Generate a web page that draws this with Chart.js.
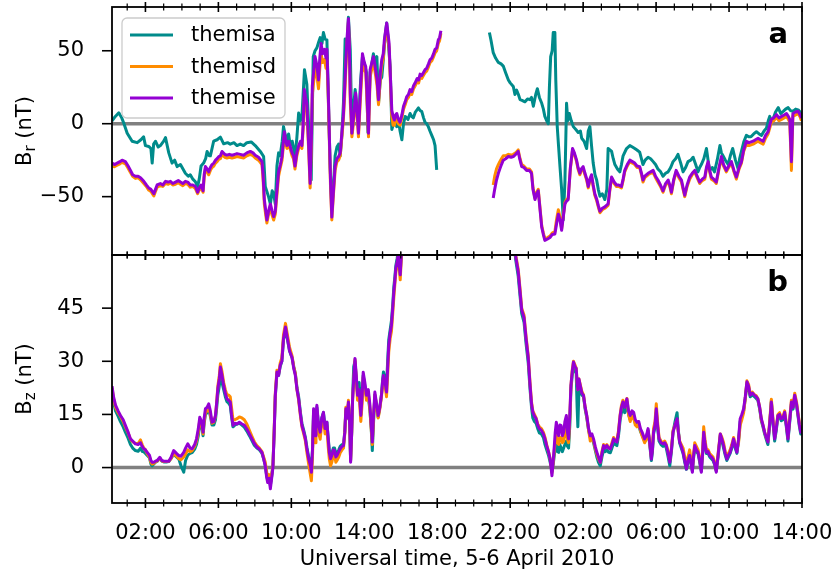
<!DOCTYPE html>
<html>
<head>
<meta charset="utf-8">
<script src="https://cdn.jsdelivr.net/npm/chart.js@4.4.1/dist/chart.umd.min.js"></script>
<style>
  html, body { margin: 0; padding: 0; background: #fff; }
  #wrap { position: relative; width: 836px; height: 576px; }
  #wrap canvas { position: absolute; left: 0; top: 0; }
</style>
</head>
<body>
<div id="wrap">
  <canvas id="chartBr" width="836" height="576"></canvas>
  <canvas id="chartBz" width="836" height="576"></canvas>
</div>
<script>
// probes and their line colours
const probes = ['themisa', 'themisd', 'themise'];
const probeColors = ['#008b8b', '#ff8c00', '#9400d3'];

// time axis in hours from 00:00 on 5 April
const xMin = 1 / 6;
const xMax = 38;
const hourTicks = [2, 6, 10, 14, 18, 22, 26, 30, 34, 38];
const brTicks = [-50, 0, 50];
const bzTicks = [0, 15, 30, 45];

// Br (nT), [hour, value]
const brA = [
  [0.17,2],[0.35,5],[0.54,7.5],[0.7,4],[0.81,0.5],[1.0,-6.5],[1.27,-12],[1.55,-13],[1.75,-11],[1.9,-9],
  [2.0,-15],[2.18,-15.6],[2.3,-17],[2.37,-27],[2.45,-14],[2.55,-12],[2.7,-16],[2.82,-15],[3.0,-12],[3.1,-9.5],
  [3.28,-20],[3.46,-27],[3.6,-25],[3.74,-29.4],[3.92,-28],[4.19,-34],[4.35,-36],[4.46,-35],[4.6,-38],[4.74,-39.8],
  [4.86,-43],[4.95,-38],[5.05,-29],[5.19,-27],[5.3,-24],[5.38,-19],[5.5,-22],[5.56,-22],[5.74,-12],[5.93,-11],
  [6.11,-9.2],[6.29,-13.8],[6.5,-13],[6.65,-14],[6.85,-13],[7.02,-15],[7.2,-14],[7.38,-15],[7.56,-13],[7.8,-12.5],
  [8.02,-15],[8.3,-19],[8.48,-22.5],[8.57,-43],[8.75,-50],[8.85,-55],[8.95,-46],[9.03,-48],[9.12,-55],[9.21,-29],
  [9.3,-20],[9.39,-22],[9.5,-12],[9.57,-2],[9.67,-8],[9.76,-11],[9.85,-7],[9.94,-15],[10.05,-12],[10.2,-22.5],
  [10.3,-10],[10.4,7.3],[10.5,2],[10.58,5],[10.72,37],[10.85,27],[10.98,-10],[11.09,-38.6],[11.2,46],[11.3,50],
  [11.4,52],[11.5,56],[11.58,59],[11.68,55],[11.76,62.5],[11.85,58],[11.95,57.5],[12.04,12],[12.13,-30],[12.22,-57],
  [12.3,-45],[12.4,-22],[12.5,-16],[12.59,-14],[12.68,-22],[12.77,-8],[12.86,15],[12.95,58],[13.05,50],[13.13,73],
  [13.23,51],[13.32,-6.5],[13.4,10],[13.5,23.4],[13.6,10],[13.68,-2],[13.8,30],[13.9,46],[14.05,39],[14.12,35],
  [14.2,-6],[14.32,35],[14.42,42],[14.5,48],[14.6,40],[14.69,46],[14.78,14],[14.88,30],[14.96,32],[15.05,45],
  [15.14,60],[15.23,69],[15.32,55],[15.42,39],[15.51,-4],[15.6,0],[15.69,1],[15.78,-2],[15.87,2.5],[15.96,-5],
  [16.06,-11],[16.15,0],[16.24,5],[16.4,3],[16.51,7],[16.6,5],[16.69,4],[16.8,8],[16.97,10.8],[17.06,9],
  [17.15,8.5],[17.25,4],[17.33,1],[17.42,0],[17.51,-2],[17.6,-5],[17.7,-8],[17.8,-11],[17.88,-15],[17.97,-31.7],
  [19.5,null],
  [20.86,62.5],[20.95,57],[21.07,48.7],[21.2,45],[21.35,42],[21.5,41],[21.62,39.5],[21.75,35],[21.9,30],[22.0,28],
  [22.17,25.5],[22.26,20],[22.35,23],[22.45,20],[22.54,16.5],[22.65,16],[22.81,15],[22.95,17],[23.08,16.5],[23.17,18],
  [23.27,12],[23.4,20],[23.49,24],[23.6,18],[23.73,14],[23.82,10],[23.9,5],[24.0,2],[24.09,0],[24.15,25],
  [24.22,46],[24.3,50],[24.36,62.5],[24.45,62.5],[24.5,30],[24.58,-2],[24.65,-15],[24.73,-29.5],[24.82,-45],[24.91,-66],
  [25.0,-40],[25.09,14],[25.16,2],[25.24,7],[25.35,2],[25.46,-2],[25.6,-4],[25.73,-6],[25.85,-5],[25.92,-10],
  [26.05,-12],[26.19,-17],[26.28,-5],[26.37,-2],[26.46,-15],[26.55,-27],[26.65,-35],[26.74,-38.6],[26.83,-45],[26.92,-49.7],
  [27.05,-48],[27.19,-52],[27.3,-45],[27.37,-17],[27.47,-18],[27.56,-19],[27.65,-24],[27.74,-28],[27.88,-31],[28.01,-33],
  [28.1,-28],[28.19,-22],[28.38,-17],[28.56,-15],[28.7,-16],[28.83,-17],[28.95,-18],[29.1,-19.5],[29.28,-28],[29.4,-25],
  [29.56,-23],[29.7,-24],[29.84,-26],[29.97,-28],[30.1,-31],[30.25,-33],[30.38,-36],[30.52,-34],[30.66,-33],[30.8,-30],
  [30.93,-26],[31.07,-24],[31.2,-21],[31.35,-27],[31.48,-33],[31.62,-30],[31.75,-26],[31.9,-25],[32.03,-23],[32.17,-28],
  [32.3,-33],[32.39,-30],[32.48,-28],[32.62,-24],[32.76,-17],[32.85,-25],[32.94,-32],[33.08,-30],[33.2,-33],[33.35,-25],
  [33.5,-15],[33.58,-20],[33.67,-22],[33.8,-25],[33.95,-28],[34.07,-22],[34.2,-17],[34.35,-25],[34.5,-31],[34.58,-24],
  [34.68,-19],[34.82,-12],[34.95,-8],[35.08,-9],[35.2,-9],[35.35,-7],[35.5,-5.5],[35.65,-7],[35.78,-8],[35.92,-5],
  [36.05,-3],[36.15,2],[36.23,5],[36.32,2],[36.41,3],[36.55,8],[36.7,11],[36.83,7],[36.97,8.5],[37.1,10],
  [37.24,11],[37.37,9],[37.5,8.5],[37.65,10],[37.79,9.5],[37.9,8],[37.97,6]
];

const brD = [
  [0.17,-29],[0.3,-29.5],[0.45,-28.5],[0.6,-27.5],[0.72,-26.5],[0.9,-27.5],[1.05,-30.5],[1.18,-33.5],[1.3,-36],[1.45,-37.5],
  [1.6,-37],[1.73,-38.5],[1.91,-41],[2.05,-43],[2.18,-45.5],[2.3,-46.5],[2.46,-49.5],[2.55,-46.5],[2.64,-43.5],[2.82,-42.5],
  [2.95,-43],[3.1,-41],[3.25,-41.5],[3.37,-40.5],[3.5,-42],[3.65,-41.5],[3.8,-40.5],[3.92,-41.5],[4.05,-42.5],[4.19,-41],
  [4.32,-41.5],[4.46,-43.5],[4.6,-43],[4.74,-44.5],[4.86,-48],[4.95,-45.5],[5.05,-43.5],[5.16,-47],[5.22,-37],[5.29,-31],
  [5.38,-32.5],[5.47,-35],[5.56,-32],[5.65,-30],[5.75,-29],[5.84,-27],[5.93,-26],[6.02,-24.5],[6.11,-24],[6.2,-21],
  [6.35,-23],[6.47,-23.5],[6.6,-23],[6.75,-23.5],[6.9,-23],[7.02,-22.5],[7.2,-23],[7.38,-23.5],[7.56,-22],[7.75,-21],
  [7.9,-22],[8.02,-23.5],[8.2,-25],[8.39,-28],[8.45,-38],[8.52,-55],[8.6,-63],[8.66,-68],[8.75,-62],[8.85,-58],
  [8.95,-63],[9.03,-66],[9.12,-62],[9.18,-53],[9.3,-36],[9.4,-30],[9.49,-25],[9.55,-17],[9.62,-8],[9.7,-14],
  [9.76,-17],[9.85,-14],[9.95,-18],[10.04,-22],[10.12,-24],[10.2,-31],[10.3,-22],[10.4,-17],[10.5,-14],[10.58,-17],
  [10.65,-3],[10.71,18],[10.78,14],[10.85,8],[10.95,-18],[11.03,-44],[11.1,-14],[11.15,20],[11.22,28],[11.3,38],
  [11.4,33],[11.49,24],[11.56,38],[11.63,48],[11.72,42],[11.82,44],[11.9,38],[11.95,44],[12.02,20],[12.08,-10],
  [12.15,-44],[12.22,-66],[12.3,-50],[12.4,-32],[12.5,-26],[12.59,-25],[12.68,-22],[12.77,-9],[12.85,2],[12.92,18],
  [12.98,35],[13.05,54],[13.13,70],[13.18,50],[13.23,15],[13.32,-9],[13.42,2],[13.53,17],[13.6,7],[13.68,-9],
  [13.78,15],[13.9,42],[14.0,37],[14.08,35],[14.15,15],[14.23,-9],[14.32,32],[14.42,38],[14.5,42],[14.56,38],
  [14.62,33],[14.7,26],[14.78,13],[14.88,31],[14.96,40],[15.04,45],[15.1,54],[15.18,62],[15.23,66],[15.3,59],
  [15.36,52],[15.44,26],[15.51,5],[15.58,-1],[15.65,-1],[15.72,3],[15.78,4],[15.87,0],[15.96,-1],[16.06,4],
  [16.15,10],[16.24,13],[16.33,16.5],[16.42,18],[16.51,21],[16.6,20],[16.7,24],[16.79,26],[16.9,29],[16.98,28],
  [17.06,32],[17.15,31],[17.24,33],[17.33,35],[17.42,36],[17.52,39],[17.61,42],[17.7,43],[17.8,46],[17.88,48.5],
  [17.97,50],[18.06,55],[18.13,57],[18.2,62],
  [19.5,null],
  [21.07,-42],[21.15,-36],[21.25,-31],[21.35,-28],[21.43,-26],[21.52,-24],[21.62,-22],[21.75,-22],[21.9,-21],[22.05,-21.5],
  [22.17,-21],[22.3,-20],[22.44,-18],[22.52,-23],[22.63,-28],[22.75,-29],[22.9,-31],[23.05,-31],[23.17,-33],[23.25,-44],
  [23.36,-51],[23.45,-47],[23.54,-45],[23.63,-57],[23.73,-70],[23.82,-75],[23.9,-79],[24.05,-78],[24.18,-77],[24.3,-75],
  [24.45,-74],[24.55,-65],[24.64,-59],[24.73,-64],[24.82,-72],[24.9,-64],[25.0,-54],[25.09,-52],[25.18,-51],[25.3,-31],
  [25.42,-18],[25.52,-21],[25.64,-26],[25.72,-31],[25.82,-35],[25.9,-32],[26.0,-31],[26.1,-35],[26.2,-39],[26.28,-44],
  [26.37,-39],[26.46,-36],[26.55,-43],[26.64,-49],[26.75,-53],[26.83,-57],[26.92,-61],[27.05,-59],[27.19,-58],[27.28,-57],
  [27.37,-56],[27.46,-46],[27.56,-37],[27.7,-41],[27.83,-43],[27.95,-43],[28.1,-44],[28.19,-39],[28.28,-33],[28.42,-29],
  [28.56,-26],[28.7,-27],[28.83,-28],[28.95,-30],[29.1,-30],[29.2,-35],[29.28,-40],[29.38,-37],[29.56,-35],[29.7,-34],
  [29.84,-33.5],[29.97,-37],[30.1,-40],[30.24,-43],[30.38,-47],[30.52,-42],[30.66,-40],[30.75,-43],[30.84,-48],[30.97,-39],
  [31.1,-33],[31.25,-37],[31.39,-40],[31.48,-45],[31.57,-50],[31.7,-43],[31.84,-38],[31.98,-35],[32.12,-33],[32.25,-37],
  [32.39,-41],[32.53,-39],[32.67,-38],[32.76,-31],[32.85,-27],[32.94,-33],[33.03,-38],[33.16,-39],[33.3,-41],[33.45,-31],
  [33.58,-24],[33.7,-29],[33.85,-33],[33.98,-30],[34.13,-27],[34.27,-33],[34.4,-38],[34.55,-31],[34.68,-27],[34.8,-19],
  [34.95,-14],[35.1,-15],[35.32,-14],[35.45,-13],[35.59,-12],[35.72,-13],[35.87,-14],[36.0,-10],[36.14,-7],[36.23,-3],
  [36.32,1],[36.45,2],[36.6,4.5],[36.74,2],[36.88,3],[37.02,4],[37.15,5],[37.25,3],[37.33,1],[37.42,-32],
  [37.5,5],[37.65,6],[37.79,7],[37.9,4.5],[37.97,2]
];

const brE = [
  [0.17,-27],[0.3,-28],[0.45,-27],[0.6,-26],[0.72,-25],[0.9,-26],[1.05,-29],[1.18,-32],[1.3,-35],[1.45,-36],
  [1.6,-36],[1.73,-37],[1.91,-39.5],[2.05,-42],[2.18,-44],[2.3,-45],[2.46,-48],[2.55,-45],[2.64,-42],[2.82,-41],
  [2.95,-42],[3.1,-39.5],[3.25,-40],[3.37,-39.5],[3.5,-41],[3.65,-40],[3.8,-39],[3.92,-40],[4.05,-41],[4.19,-39.5],
  [4.32,-40],[4.46,-42],[4.6,-42],[4.74,-43],[4.86,-46.9],[4.95,-44],[5.05,-42],[5.16,-46],[5.22,-35],[5.29,-29.4],
  [5.38,-31],[5.47,-33],[5.56,-30],[5.65,-28],[5.75,-27],[5.84,-25],[5.93,-24],[6.02,-22.5],[6.11,-22],[6.2,-19],
  [6.35,-21],[6.47,-21.6],[6.6,-21],[6.75,-21.6],[6.9,-21],[7.02,-20.5],[7.2,-21],[7.38,-21.6],[7.56,-20],[7.75,-19],
  [7.9,-20],[8.02,-21.6],[8.2,-23],[8.39,-26],[8.45,-35],[8.52,-52],[8.6,-60],[8.66,-66],[8.75,-60],[8.85,-55],
  [8.95,-60],[9.03,-63.6],[9.12,-60],[9.18,-50],[9.3,-33],[9.4,-28],[9.49,-22.5],[9.55,-14],[9.62,-5.5],[9.7,-12],
  [9.76,-15],[9.85,-12],[9.95,-16],[10.04,-20],[10.12,-22],[10.2,-29],[10.3,-20],[10.4,-15],[10.5,-12],[10.58,-15],
  [10.65,0],[10.71,23.4],[10.78,18],[10.85,14],[10.95,-15],[11.03,-41],[11.1,-10],[11.15,26],[11.22,35],[11.3,46],
  [11.4,40],[11.49,30],[11.56,45],[11.63,55],[11.72,48],[11.82,51],[11.9,45],[11.95,51],[12.02,25],[12.08,-6],
  [12.15,-40],[12.22,-64],[12.3,-48],[12.4,-29],[12.5,-24],[12.59,-22.5],[12.68,-20],[12.77,-6.5],[12.85,5],[12.92,23.4],
  [12.98,40],[13.05,58],[13.13,72],[13.18,55],[13.23,21],[13.32,-6.5],[13.42,5],[13.53,21],[13.6,10],[13.68,-6.5],
  [13.78,20],[13.9,48],[14.0,42],[14.08,39],[14.15,20],[14.23,-6.5],[14.32,37],[14.42,42],[14.5,46],[14.56,42],
  [14.62,37],[14.7,30],[14.78,16.5],[14.88,35],[14.96,44],[15.04,48],[15.1,57.5],[15.18,65],[15.23,69],[15.3,62],
  [15.36,55],[15.44,30],[15.51,9],[15.58,5],[15.65,2.5],[15.72,6],[15.78,7],[15.87,3],[15.96,1],[16.06,6],
  [16.15,12],[16.24,15],[16.33,18.6],[16.42,20],[16.51,23.4],[16.6,22],[16.7,26],[16.79,28],[16.9,31],[16.98,30],
  [17.06,34],[17.15,33],[17.24,35],[17.33,37],[17.42,38],[17.52,41],[17.61,44],[17.7,45],[17.8,48],[17.88,51],
  [17.97,52],[18.06,57.5],[18.13,59],[18.2,63.7],
  [19.5,null],
  [21.07,-51],[21.15,-45],[21.25,-38.6],[21.35,-34],[21.43,-31],[21.52,-28],[21.62,-25],[21.75,-24],[21.9,-22.5],[22.05,-23],
  [22.17,-22.5],[22.3,-21],[22.44,-19],[22.52,-24],[22.63,-29.4],[22.75,-30],[22.9,-32],[23.05,-32],[23.17,-34],[23.25,-45],
  [23.36,-52],[23.45,-48],[23.54,-46],[23.63,-58],[23.73,-71],[23.82,-76],[23.9,-80],[24.05,-79],[24.18,-78],[24.3,-76],
  [24.45,-75.6],[24.55,-68],[24.64,-62],[24.73,-66],[24.82,-73],[24.9,-65],[25.0,-55],[25.09,-53],[25.18,-52],[25.3,-30],
  [25.42,-17],[25.52,-20],[25.64,-25],[25.72,-30],[25.82,-34],[25.9,-31],[26.0,-29.4],[26.1,-34],[26.2,-38],[26.28,-43],
  [26.37,-38],[26.46,-35],[26.55,-42],[26.64,-48],[26.75,-52],[26.83,-56],[26.92,-60],[27.05,-58],[27.19,-57],[27.28,-56],
  [27.37,-55],[27.46,-45],[27.56,-36.6],[27.7,-40],[27.83,-42],[27.95,-42],[28.1,-43],[28.19,-38],[28.28,-32],[28.42,-28],
  [28.56,-25],[28.7,-26],[28.83,-27],[28.95,-29],[29.1,-29.4],[29.2,-34],[29.28,-38.6],[29.38,-36],[29.56,-34],[29.7,-33],
  [29.84,-32],[29.97,-36],[30.1,-38.6],[30.24,-42],[30.38,-46],[30.52,-41],[30.66,-38.6],[30.75,-42],[30.84,-47],[30.97,-38],
  [31.1,-32],[31.25,-36],[31.39,-38.6],[31.48,-44],[31.57,-49],[31.7,-42],[31.84,-36.6],[31.98,-34],[32.12,-32],[32.25,-36],
  [32.39,-40],[32.53,-38],[32.67,-36.6],[32.76,-30],[32.85,-26],[32.94,-32],[33.03,-36.6],[33.16,-38],[33.3,-40],[33.45,-30],
  [33.58,-22.5],[33.7,-28],[33.85,-32],[33.98,-29],[34.13,-26],[34.27,-32],[34.4,-36.6],[34.55,-30],[34.68,-26],[34.8,-18],
  [34.95,-12],[35.1,-13],[35.32,-12],[35.45,-11],[35.59,-10],[35.72,-11],[35.87,-12],[36.0,-8],[36.14,-5.5],[36.23,-1],
  [36.32,3],[36.45,4],[36.6,6.2],[36.74,4],[36.88,5],[37.02,6],[37.15,7],[37.25,5],[37.33,3],[37.42,-26],
  [37.5,7],[37.65,8],[37.79,8.5],[37.9,6],[37.97,4]
];

// Bz (nT), [hour, value]
const bzA = [
  [0.17,22],[0.25,18.5],[0.36,16],[0.5,14.5],[0.63,13],[0.78,11.5],[0.9,10],[1.05,8.3],[1.18,6.5],[1.3,5.5],
  [1.45,4.8],[1.6,4.6],[1.73,5.5],[1.82,4.6],[1.91,4.4],[2.0,4],[2.09,3.5],[2.22,2.8],[2.3,1],[2.37,0.5],
  [2.46,1],[2.55,1.5],[2.65,1.8],[2.79,2.6],[2.9,1.8],[3.0,1.6],[3.15,1.6],[3.28,1.7],[3.4,2.6],[3.55,3.8],
  [3.7,3],[3.83,2.4],[3.95,0.5],[4.1,-1.3],[4.2,2],[4.32,3.5],[4.45,4],[4.56,4.2],[4.7,5.2],[4.8,6.5],
  [4.9,9],[4.98,12.5],[5.08,12],[5.16,9],[5.22,12.5],[5.29,15],[5.38,15.5],[5.47,16.5],[5.56,14.5],[5.65,12],
  [5.75,12],[5.84,13.5],[5.9,16.5],[5.97,20.5],[6.05,23],[6.11,26],[6.2,24],[6.29,22],[6.38,20],[6.47,18.6],
  [6.56,18.2],[6.65,17.5],[6.72,14.5],[6.8,11.5],[6.9,12],[7.02,12.3],[7.15,12.5],[7.29,12],[7.42,11.4],[7.56,10.3],
  [7.7,9],[7.84,7.6],[7.97,6.3],[8.11,5.5],[8.25,5],[8.39,4],[8.48,2.5],[8.57,0.6],[8.64,-2],[8.7,-3.5],
  [8.78,-2.6],[8.85,-5],[8.92,-2.6],[8.99,0.5],[9.06,10],[9.12,20],[9.21,26.5],[9.3,26],[9.39,28.5],[9.48,30],
  [9.57,36],[9.68,39],[9.8,35.8],[9.9,33],[10.04,31],[10.13,28.5],[10.22,26.5],[10.31,22.5],[10.4,20],[10.5,15.5],
  [10.58,12.5],[10.68,10.5],[10.77,8.5],[10.86,5.5],[10.95,3],[11.03,1.5],[11.1,0],[11.16,5],[11.22,16],[11.3,9.5],
  [11.35,13],[11.4,17],[11.49,12],[11.58,10.5],[11.67,14],[11.76,15.5],[11.85,11.5],[11.95,12.8],[12.02,8.5],[12.08,5],
  [12.15,3.5],[12.22,4],[12.3,5.5],[12.37,5.5],[12.44,4],[12.5,4],[12.6,5],[12.68,6],[12.78,6.5],[12.86,6.5],
  [12.93,10],[12.99,16],[13.06,14],[13.13,18],[13.2,12],[13.25,2],[13.31,10],[13.36,20],[13.42,28.5],[13.49,30],
  [13.56,25],[13.63,21],[13.72,24],[13.81,15],[13.88,21],[13.94,26],[14.03,23],[14.12,20],[14.22,20],[14.31,16],
  [14.38,11],[14.44,4.8],[14.51,13],[14.58,20.5],[14.67,17.5],[14.76,14.2],[14.85,17],[14.94,20.5],[15.0,24.5],[15.05,27],
  [15.14,25],[15.22,23],[15.28,30],[15.34,36],[15.42,39],[15.49,41.5],[15.56,46],[15.62,51],[15.68,54],[15.73,57],
  [15.8,59],[15.86,61],[15.92,58],[15.97,55],[16.05,63],[16.15,68],
  [19,null],
  [22.2,63],[22.32,58],[22.44,54],[22.54,48.5],[22.63,43.5],[22.76,41],[22.87,35],[22.99,29.5],[23.09,22],[23.17,17],
  [23.24,14],[23.33,13],[23.42,12.5],[23.51,11],[23.6,9.8],[23.71,9.5],[23.82,8.5],[23.91,6.5],[24.0,5],[24.1,3.5],
  [24.19,1.5],[24.29,-1],[24.36,1],[24.42,3.5],[24.47,5.5],[24.53,6.5],[24.6,4.5],[24.66,4.3],[24.72,6.5],[24.79,5.5],
  [24.86,4.5],[24.93,5.5],[25.0,6.5],[25.08,7.5],[25.14,6],[25.2,5.5],[25.27,12],[25.33,22],[25.4,26],[25.47,28.5],
  [25.55,27.5],[25.62,26.5],[25.67,17],[25.71,11.5],[25.77,22],[25.84,22.5],[25.93,20.5],[26.02,20],[26.11,16.5],[26.2,14],
  [26.3,10.5],[26.39,8.5],[26.48,8.5],[26.57,7],[26.66,5],[26.75,3],[26.84,1.5],[26.94,0.5],[27.03,3],[27.12,5],
  [27.21,4.5],[27.3,5],[27.4,4.3],[27.49,4.2],[27.58,5.5],[27.67,7],[27.76,6.5],[27.85,6.2],[27.94,9],[28.03,13.5],
  [28.1,15.5],[28.18,17],[28.28,15.5],[28.4,18],[28.49,15],[28.58,13.5],[28.68,15],[28.77,14.5],[28.86,12.5],[28.95,12],
  [29.05,12],[29.14,10.2],[29.23,9.2],[29.37,7.5],[29.47,8.5],[29.56,10.5],[29.65,6.5],[29.74,2],[29.8,4.5],[29.86,9.5],
  [29.94,11.5],[30.01,15.5],[30.08,11.5],[30.16,7.5],[30.27,6.5],[30.38,6],[30.47,6.5],[30.56,5.5],[30.66,3],[30.75,0.5],
  [30.84,4.5],[30.93,10],[31.04,13],[31.15,15.5],[31.22,10.5],[31.29,7],[31.38,5.5],[31.48,4],[31.57,1.5],[31.66,-0.5],
  [31.75,1.5],[31.84,3],[31.92,1],[31.99,-1],[32.05,2.5],[32.12,5.5],[32.21,4.5],[32.3,4],[32.39,1.5],[32.48,-1],
  [32.55,3.5],[32.61,9],[32.68,6.5],[32.76,4],[32.85,4],[32.94,3],[33.03,2.5],[33.12,2],[33.21,0.8],[33.3,-1],
  [33.41,3.5],[33.52,9],[33.61,7.5],[33.7,5.5],[33.79,3.5],[33.88,2],[33.97,3],[34.06,4],[34.15,5.5],[34.25,7.5],
  [34.34,5.5],[34.43,4],[34.52,7.5],[34.61,13],[34.7,14.5],[34.8,16],[34.89,19.5],[34.98,23.8],[35.07,22.5],[35.16,20],
  [35.28,20.5],[35.4,20],[35.49,19.5],[35.58,19],[35.68,16.5],[35.77,13.2],[35.86,11.5],[35.95,9.5],[36.04,8],[36.13,6.5],
  [36.22,11.5],[36.32,18.8],[36.41,12.5],[36.5,7.5],[36.59,10.5],[36.68,14.5],[36.77,14.5],[36.86,13.2],[36.96,13.5],[37.05,15],
  [37.14,11.5],[37.23,7.5],[37.32,12.5],[37.42,18],[37.51,16.5],[37.6,20],[37.7,17.5],[37.79,14.2],[37.86,11.5],[37.93,9.5],[38.0,11]
];

const bzD = [
  [0.17,22.5],[0.25,19.5],[0.36,17],[0.5,15.5],[0.63,14.5],[0.78,13],[0.9,11.5],[1.05,9.8],[1.18,8],[1.3,7.3],
  [1.45,6.8],[1.6,6.8],[1.73,7.8],[1.82,6.5],[1.91,5.5],[2.0,5],[2.09,4],[2.22,3],[2.3,1.5],[2.37,1],
  [2.46,1.2],[2.55,1.6],[2.65,1.9],[2.79,2.6],[2.9,1.9],[3.0,1.7],[3.15,1.7],[3.28,1.8],[3.4,2.5],[3.55,4],
  [3.7,3.2],[3.83,2.5],[3.95,2.2],[4.1,3],[4.2,3.8],[4.32,5],[4.45,4.5],[4.56,4.8],[4.7,6],[4.8,7.5],
  [4.9,10],[4.98,13.5],[5.08,12.5],[5.16,9.5],[5.22,13],[5.29,15.5],[5.38,16],[5.47,17],[5.56,15],[5.65,12.5],
  [5.75,12.8],[5.84,14.5],[5.9,18],[5.97,23],[6.05,26],[6.11,29.3],[6.2,27],[6.29,24],[6.38,22],[6.47,20.5],
  [6.56,20.5],[6.65,20],[6.72,17],[6.8,13.5],[6.9,13.5],[7.02,13.8],[7.15,14.3],[7.29,14],[7.42,13.5],[7.56,12.3],
  [7.7,10.5],[7.84,8.8],[7.97,7.3],[8.11,6.2],[8.25,5.5],[8.39,4.5],[8.48,3],[8.57,1.5],[8.64,-1],[8.7,-3],
  [8.78,-2],[8.85,-4.5],[8.92,-2],[8.99,0.5],[9.06,11],[9.12,21],[9.21,27.5],[9.3,26.5],[9.39,29.5],[9.48,31],
  [9.57,37.5],[9.68,40.7],[9.8,37],[9.9,34],[10.04,31.5],[10.13,28.5],[10.22,26.5],[10.31,22],[10.4,19],[10.5,14.5],
  [10.58,11.5],[10.68,9.5],[10.77,7.5],[10.86,4],[10.95,1],[11.03,-1.5],[11.1,-3.7],[11.16,3],[11.22,15],[11.3,7],
  [11.35,11],[11.4,16],[11.49,10],[11.58,8],[11.67,12.5],[11.76,14],[11.85,9.5],[11.95,11.5],[12.02,6],[12.08,2.5],
  [12.15,0.5],[12.22,1.5],[12.3,3.5],[12.37,3.5],[12.44,1.5],[12.5,2],[12.6,3],[12.68,4.2],[12.78,5],[12.86,5.5],
  [12.93,9.5],[12.99,17],[13.06,14],[13.13,19],[13.2,12],[13.25,2],[13.31,10],[13.36,19.5],[13.42,24],[13.49,30.5],
  [13.56,25],[13.63,19],[13.72,20],[13.81,13],[13.88,18],[13.94,25.5],[14.03,22.5],[14.12,19],[14.22,21],[14.31,16.5],
  [14.38,11],[14.44,6.5],[14.51,14],[14.58,20.5],[14.67,17.5],[14.76,14],[14.85,16.5],[14.94,20],[15.0,23],[15.05,25],
  [15.14,23],[15.22,20],[15.28,26],[15.34,32.5],[15.42,36.5],[15.49,38.5],[15.56,43.5],[15.62,48],[15.68,52],[15.73,55],
  [15.8,57.5],[15.86,59.5],[15.92,56],[15.97,53],[16.05,61],[16.15,67],
  [19,null],
  [22.2,64],[22.32,59.5],[22.44,56],[22.54,50.5],[22.63,45],[22.76,43],[22.87,37],[22.99,31.5],[23.09,23.8],[23.17,18.5],
  [23.24,16],[23.33,15],[23.42,14],[23.51,12.3],[23.6,11.5],[23.71,11],[23.82,10],[23.91,8.5],[24.0,6.5],[24.1,4.5],
  [24.19,2.5],[24.29,-1.5],[24.36,1.5],[24.42,5],[24.47,7.5],[24.53,9],[24.6,7],[24.66,6.5],[24.72,8.5],[24.79,8.5],
  [24.86,7],[24.93,7.5],[25.0,9.5],[25.08,11],[25.14,8],[25.2,7],[25.27,14],[25.33,23],[25.4,27.5],[25.47,30],
  [25.55,29],[25.62,28],[25.67,24],[25.71,22],[25.77,25],[25.84,23.5],[25.93,21.5],[26.02,20.5],[26.11,17],[26.2,14.5],
  [26.3,10.5],[26.39,7.5],[26.48,8.5],[26.57,7.5],[26.66,5.5],[26.75,3.8],[26.84,2.5],[26.94,1.5],[27.03,4.5],[27.12,6.5],
  [27.21,6],[27.3,6.5],[27.4,5.5],[27.49,5.5],[27.58,7],[27.67,8.5],[27.76,7.8],[27.85,7.5],[27.94,10.5],[28.03,15],
  [28.1,17.5],[28.18,19],[28.28,17.5],[28.4,19.5],[28.49,15],[28.58,13],[28.68,14.5],[28.77,14],[28.86,12],[28.95,11.5],
  [29.05,12.5],[29.14,10.5],[29.23,9],[29.37,7],[29.47,8],[29.56,10.5],[29.65,7],[29.74,3],[29.8,6],[29.86,11],
  [29.94,13],[30.01,18],[30.08,13],[30.16,8.5],[30.27,7.5],[30.38,7],[30.47,7.5],[30.56,6.5],[30.66,4.5],[30.75,2],
  [30.84,5.5],[30.93,10.5],[31.04,12],[31.15,13.5],[31.22,10],[31.29,7.5],[31.38,6.5],[31.48,5.5],[31.57,3],[31.66,0.5],
  [31.75,3],[31.84,5],[31.92,2],[31.99,-0.5],[32.05,3.5],[32.12,7],[32.21,6],[32.3,5],[32.39,2.5],[32.48,-0.5],
  [32.55,5],[32.61,11.5],[32.68,8],[32.76,5],[32.85,5],[32.94,4],[33.03,3.5],[33.12,3],[33.21,1.5],[33.3,-0.8],
  [33.41,4.5],[33.52,9.5],[33.61,8.5],[33.7,7],[33.79,4.5],[33.88,3],[33.97,4],[34.06,5],[34.15,6.5],[34.25,8.5],
  [34.34,6.5],[34.43,5],[34.52,7],[34.61,12],[34.7,13.5],[34.8,15.5],[34.89,19.5],[34.98,24.5],[35.07,23.5],[35.16,21],
  [35.28,21.3],[35.4,20.5],[35.49,20.3],[35.58,19.5],[35.68,17],[35.77,13.5],[35.86,12],[35.95,10],[36.04,8.5],[36.13,7.5],
  [36.22,12.5],[36.32,19.3],[36.41,13.5],[36.5,8.5],[36.59,11.5],[36.68,15],[36.77,15.5],[36.86,14],[36.96,14.5],[37.05,16],
  [37.14,12.5],[37.23,8.5],[37.32,13.5],[37.42,19],[37.51,17.5],[37.6,21],[37.7,18.5],[37.79,15],[37.86,12.5],[37.93,10.5],[38.0,11.5]
];

const bzE = [
  [0.17,23],[0.25,20],[0.36,17.6],[0.5,16],[0.63,14.7],[0.78,13.5],[0.9,11.9],[1.05,10],[1.18,8.1],[1.3,7.5],
  [1.45,6.7],[1.6,6.5],[1.73,7],[1.82,6],[1.91,5.3],[2.0,5],[2.09,4.3],[2.22,3.5],[2.3,2],[2.37,1.5],
  [2.46,1.5],[2.55,1.8],[2.65,2],[2.79,2.9],[2.9,2],[3.0,1.8],[3.15,1.8],[3.28,1.8],[3.4,2.8],[3.55,4.8],
  [3.7,4],[3.83,3.4],[3.95,3.2],[4.1,4.3],[4.2,5.5],[4.32,6.7],[4.45,5.5],[4.56,5.3],[4.7,6.5],[4.8,8.1],
  [4.9,11],[4.98,14.2],[5.08,13],[5.16,10],[5.22,14],[5.29,16.6],[5.38,17],[5.47,18],[5.56,16],[5.65,12.8],
  [5.75,13],[5.84,14.7],[5.9,18],[5.97,22.3],[6.05,25],[6.11,28.4],[6.2,26],[6.29,23.2],[6.38,21],[6.47,19.4],
  [6.56,19],[6.65,18.5],[6.72,15],[6.8,11.9],[6.9,12.5],[7.02,12.3],[7.15,12.8],[7.29,12.3],[7.42,12],[7.56,10.9],
  [7.7,9.5],[7.84,8.1],[7.97,6.8],[8.11,5.8],[8.25,5.2],[8.39,4.3],[8.48,2.5],[8.57,0.5],[8.64,-2.5],[8.7,-4.2],
  [8.78,-3],[8.85,-6],[8.92,-3],[8.99,0],[9.06,10],[9.12,20.4],[9.21,27],[9.3,26],[9.39,28.9],[9.48,30],
  [9.57,36.4],[9.68,39.7],[9.8,36],[9.9,33],[10.04,31],[10.13,28],[10.22,26],[10.31,22],[10.4,19.4],[10.5,15],
  [10.58,11.9],[10.68,10],[10.77,8.1],[10.86,5],[10.95,2.4],[11.03,1],[11.1,-1.3],[11.16,5],[11.22,16.6],[11.3,9],
  [11.35,13],[11.4,17.6],[11.49,12],[11.58,10],[11.67,14],[11.76,15.6],[11.85,11],[11.95,12.8],[12.02,8],[12.08,4.3],
  [12.15,2.5],[12.22,3.4],[12.3,5],[12.37,4.8],[12.44,3],[12.5,3.4],[12.6,4.5],[12.68,5.3],[12.78,6],[12.86,6.2],
  [12.93,10],[12.99,16.6],[13.06,14],[13.13,18.5],[13.2,12],[13.25,1.5],[13.31,10],[13.36,19.4],[13.42,25],[13.49,30.8],
  [13.56,26],[13.63,20.4],[13.72,22],[13.81,14.7],[13.88,20],[13.94,26.9],[14.03,24],[14.12,20.4],[14.22,22],[14.31,17.6],
  [14.38,12],[14.44,7.2],[14.51,15],[14.58,21.3],[14.67,18],[14.76,14.7],[14.85,17],[14.94,20.4],[15.0,24],[15.05,26],
  [15.14,24],[15.22,21.3],[15.28,28],[15.34,34.5],[15.42,38],[15.49,40.2],[15.56,45],[15.62,49.7],[15.68,53],[15.73,56.3],
  [15.8,58],[15.86,60],[15.92,57],[15.97,54.4],[16.05,62],[16.15,68],
  [19,null],
  [22.2,64],[22.32,59],[22.44,55.3],[22.54,49.7],[22.63,44.5],[22.76,42.3],[22.87,36.4],[22.99,31],[23.09,23.2],[23.17,18],
  [23.24,15.7],[23.33,14.5],[23.42,13.8],[23.51,12],[23.6,11],[23.71,10.5],[23.82,9.5],[23.91,8],[24.0,6.2],[24.1,4.5],
  [24.19,2.4],[24.29,-2.3],[24.36,2],[24.42,6.2],[24.47,10],[24.53,12.8],[24.6,10],[24.66,9],[24.72,12],[24.79,11.9],
  [24.86,9],[24.93,10],[25.0,13],[25.08,14.7],[25.14,10],[25.2,8.1],[25.27,15],[25.33,23.2],[25.4,27],[25.47,29.8],
  [25.55,28.5],[25.62,28],[25.67,24],[25.71,22],[25.77,25],[25.84,23.2],[25.93,21],[26.02,20.4],[26.11,17],[26.2,14.7],
  [26.3,11],[26.39,9],[26.48,9.5],[26.57,8.1],[26.66,6],[26.75,4.3],[26.84,3],[26.94,1.5],[27.03,4],[27.12,6.2],
  [27.21,5.5],[27.3,6.2],[27.4,5.5],[27.49,5.3],[27.58,6.5],[27.67,8.1],[27.76,7.5],[27.85,7.2],[27.94,10],[28.03,14.7],
  [28.1,17],[28.18,18.5],[28.28,17],[28.4,19.4],[28.49,16],[28.58,14.7],[28.68,16],[28.77,15.6],[28.86,13.5],[28.95,12.8],
  [29.05,13],[29.14,11],[29.23,10],[29.37,8.1],[29.47,9],[29.56,11],[29.65,7],[29.74,2.4],[29.8,5],[29.86,10],
  [29.94,12],[30.01,16.6],[30.08,12],[30.16,8.1],[30.27,7],[30.38,6.7],[30.47,7],[30.56,6.2],[30.66,4],[30.75,1.5],
  [30.84,5],[30.93,10],[31.04,12],[31.15,13.8],[31.22,10],[31.29,7.2],[31.38,6],[31.48,4.3],[31.57,2],[31.66,-0.4],
  [31.75,2],[31.84,3.4],[31.92,1],[31.99,-1.3],[32.05,3],[32.12,6.2],[32.21,5],[32.3,4.3],[32.39,2],[32.48,-1.3],
  [32.55,4],[32.61,10],[32.68,7],[32.76,4.3],[32.85,4.5],[32.94,3.4],[33.03,3],[33.12,2.4],[33.21,1],[33.3,-1.3],
  [33.41,4],[33.52,9.5],[33.61,8],[33.7,6.2],[33.79,4],[33.88,2.4],[33.97,3.5],[34.06,4.3],[34.15,6],[34.25,8.1],
  [34.34,6],[34.43,4.3],[34.52,8],[34.61,13.8],[34.7,15],[34.8,16.6],[34.89,20],[34.98,24.2],[35.07,23],[35.16,20.4],
  [35.28,21],[35.4,20.4],[35.49,20],[35.58,19.4],[35.68,17],[35.77,13.8],[35.86,12],[35.95,10],[36.04,8.5],[36.13,7.2],
  [36.22,12],[36.32,18.5],[36.41,13],[36.5,8.1],[36.59,11],[36.68,14.7],[36.77,15],[36.86,13.8],[36.96,14],[37.05,15.6],
  [37.14,12],[37.23,8.1],[37.32,13],[37.42,18.5],[37.51,17],[37.6,20.4],[37.7,18],[37.79,14.7],[37.86,12],[37.93,10],[38.0,11]
];

Chart.defaults.font.family = '"DejaVu Sans", sans-serif';
Chart.defaults.font.size = 21;
Chart.defaults.color = '#000';

function probeSet(i, pts) {
  return {
    label: probes[i],
    data: pts.map(p => ({ x: p[0], y: p[1] })),
    borderColor: probeColors[i],
    borderWidth: 3,
    pointRadius: 0,
    tension: 0,
    fill: false,
    clip: 0,
    borderJoinStyle: 'round',
    order: 3 - i   // themise on top, themisa underneath
  };
}

function zeroLine() {
  return {
    label: 'zero',
    data: [{ x: xMin, y: 0 }, { x: xMax, y: 0 }],
    borderColor: '#808080',
    borderWidth: 3.5,
    pointRadius: 0,
    clip: 0,
    order: 5
  };
}

const minus = v => (v < 0 ? '\u2212' + Math.abs(v) : String(v));
const hhmm = v => String(v % 24).padStart(2, '0') + ':00';

// frame, hourly ticks (in/out) and outward y ticks
const framePlugin = {
  id: 'frame',
  afterDatasetsDraw(chart) {
    const { ctx, chartArea: a, scales } = chart;
    const x = scales.x, y = scales.y;
    ctx.save();
    ctx.strokeStyle = '#000';
    for (let h = Math.ceil(x.min); h <= x.max; h++) {
      const px = x.getPixelForValue(h);
      const major = hourTicks.includes(h);
      const len = major ? 5 : 3.5;
      ctx.lineWidth = major ? 1.6 : 1.2;
      ctx.beginPath();
      ctx.moveTo(px, a.top - len); ctx.lineTo(px, a.top + len);
      ctx.moveTo(px, a.bottom - len); ctx.lineTo(px, a.bottom + len);
      ctx.stroke();
    }
    ctx.lineWidth = 1.6;
    y.ticks.forEach(t => {
      const py = y.getPixelForValue(t.value);
      ctx.beginPath();
      ctx.moveTo(a.left - 10, py); ctx.lineTo(a.left, py);
      ctx.stroke();
    });
    ctx.lineWidth = 1.8;
    ctx.strokeRect(a.left, a.top, a.right - a.left, a.bottom - a.top);
    ctx.restore();
  }
};

// panel letter and y title with a subscript component
const panelText = {
  id: 'panelText',
  afterDraw(chart, args, opts) {
    const { ctx, chartArea: a } = chart;
    ctx.save();
    ctx.fillStyle = '#000';
    ctx.font = 'bold 29px "DejaVu Sans"';
    ctx.textAlign = 'right';
    ctx.textBaseline = 'alphabetic';
    ctx.fillText(opts.letter, a.right - 14, a.top + 36);

    const big = '21px "DejaVu Sans"', small = '15px "DejaVu Sans"';
    ctx.font = big;
    const w1 = ctx.measureText('B').width;
    const w3 = ctx.measureText(' (nT)').width;
    ctx.font = small;
    const w2 = ctx.measureText(opts.sub).width;
    const total = w1 + w2 + w3;
    ctx.translate(24, (a.top + a.bottom) / 2);
    ctx.rotate(-Math.PI / 2);
    ctx.textAlign = 'left';
    ctx.textBaseline = 'alphabetic';
    let cx = -total / 2;
    ctx.font = big;
    ctx.fillText('B', cx, 7);
    cx += w1;
    ctx.font = small;
    ctx.fillText(opts.sub, cx, 11);
    cx += w2;
    ctx.font = big;
    ctx.fillText(' (nT)', cx, 7);
    ctx.restore();
  }
};

// boxed legend in the upper left of the Br panel
const legendBox = {
  id: 'legendBox',
  afterDraw(chart) {
    const { ctx, chartArea: a } = chart;
    const x0 = a.left + 10, y0 = a.top + 11, w = 163, h = 100;
    ctx.save();
    ctx.fillStyle = 'rgba(255,255,255,0.8)';
    ctx.strokeStyle = '#cccccc';
    ctx.lineWidth = 1.3;
    ctx.beginPath();
    ctx.roundRect(x0, y0, w, h, 5);
    ctx.fill();
    ctx.stroke();
    ctx.font = '21px "DejaVu Sans"';
    ctx.textBaseline = 'middle';
    ctx.textAlign = 'left';
    chart.data.datasets.filter(d => probes.includes(d.label)).forEach((d, i) => {
      const ly = y0 + 17 + i * 31.5;
      ctx.strokeStyle = d.borderColor;
      ctx.lineWidth = 3;
      ctx.beginPath();
      ctx.moveTo(x0 + 8, ly); ctx.lineTo(x0 + 51, ly);
      ctx.stroke();
      ctx.fillStyle = '#000';
      ctx.fillText(d.label, x0 + 69, ly + 1);
    });
    ctx.restore();
  }
};

// fixed axis sizes; the label overhang must not push the plot area in
const yAxis = (lo, hi, ticks) => ({
  type: 'linear',
  min: lo,
  max: hi,
  afterFit: s => {
    s.width = 112;
    s.paddingTop = 0;
    s.paddingBottom = 0;
  },
  afterBuildTicks: s => { s.ticks = ticks.map(v => ({ value: v })); },
  grid: { display: false },
  border: { display: false },
  ticks: { padding: 20, callback: minus }
});

new Chart(document.getElementById('chartBr'), {
  type: 'line',
  data: {
    datasets: [probeSet(0, brA), probeSet(1, brD), probeSet(2, brE), zeroLine()]
  },
  options: {
    responsive: false,
    animation: false,
    layout: { padding: { top: 7, right: 34, bottom: 321, left: 0 } },
    scales: {
      x: { type: 'linear', min: xMin, max: xMax, display: false },
      y: yAxis(-90, 80, brTicks)
    },
    plugins: {
      legend: { display: false },
      tooltip: { enabled: false },
      panelText: { letter: 'a', sub: 'r' }
    }
  },
  plugins: [framePlugin, legendBox, panelText]
});

new Chart(document.getElementById('chartBz'), {
  type: 'line',
  data: {
    datasets: [probeSet(0, bzA), probeSet(1, bzD), probeSet(2, bzE), zeroLine()]
  },
  options: {
    responsive: false,
    animation: false,
    layout: { padding: { top: 255, right: 34, bottom: 0, left: 0 } },
    scales: {
      x: {
        type: 'linear',
        min: xMin,
        max: xMax,
        afterFit: s => {
          s.height = 73;
          s.paddingLeft = 0;
          s.paddingRight = 0;
        },
        afterBuildTicks: s => { s.ticks = hourTicks.map(v => ({ value: v })); },
        grid: { display: false },
        border: { display: false },
        ticks: { padding: 10, maxRotation: 0, autoSkip: false, callback: hhmm },
        title: {
          display: true,
          text: 'Universal time, 5-6 April 2010',
          padding: { top: 0, bottom: 4 }
        }
      },
      y: yAxis(-10, 60, bzTicks)
    },
    plugins: {
      legend: { display: false },
      tooltip: { enabled: false },
      panelText: { letter: 'b', sub: 'z' }
    }
  },
  plugins: [framePlugin, panelText]
});
</script>
</body>
</html>
